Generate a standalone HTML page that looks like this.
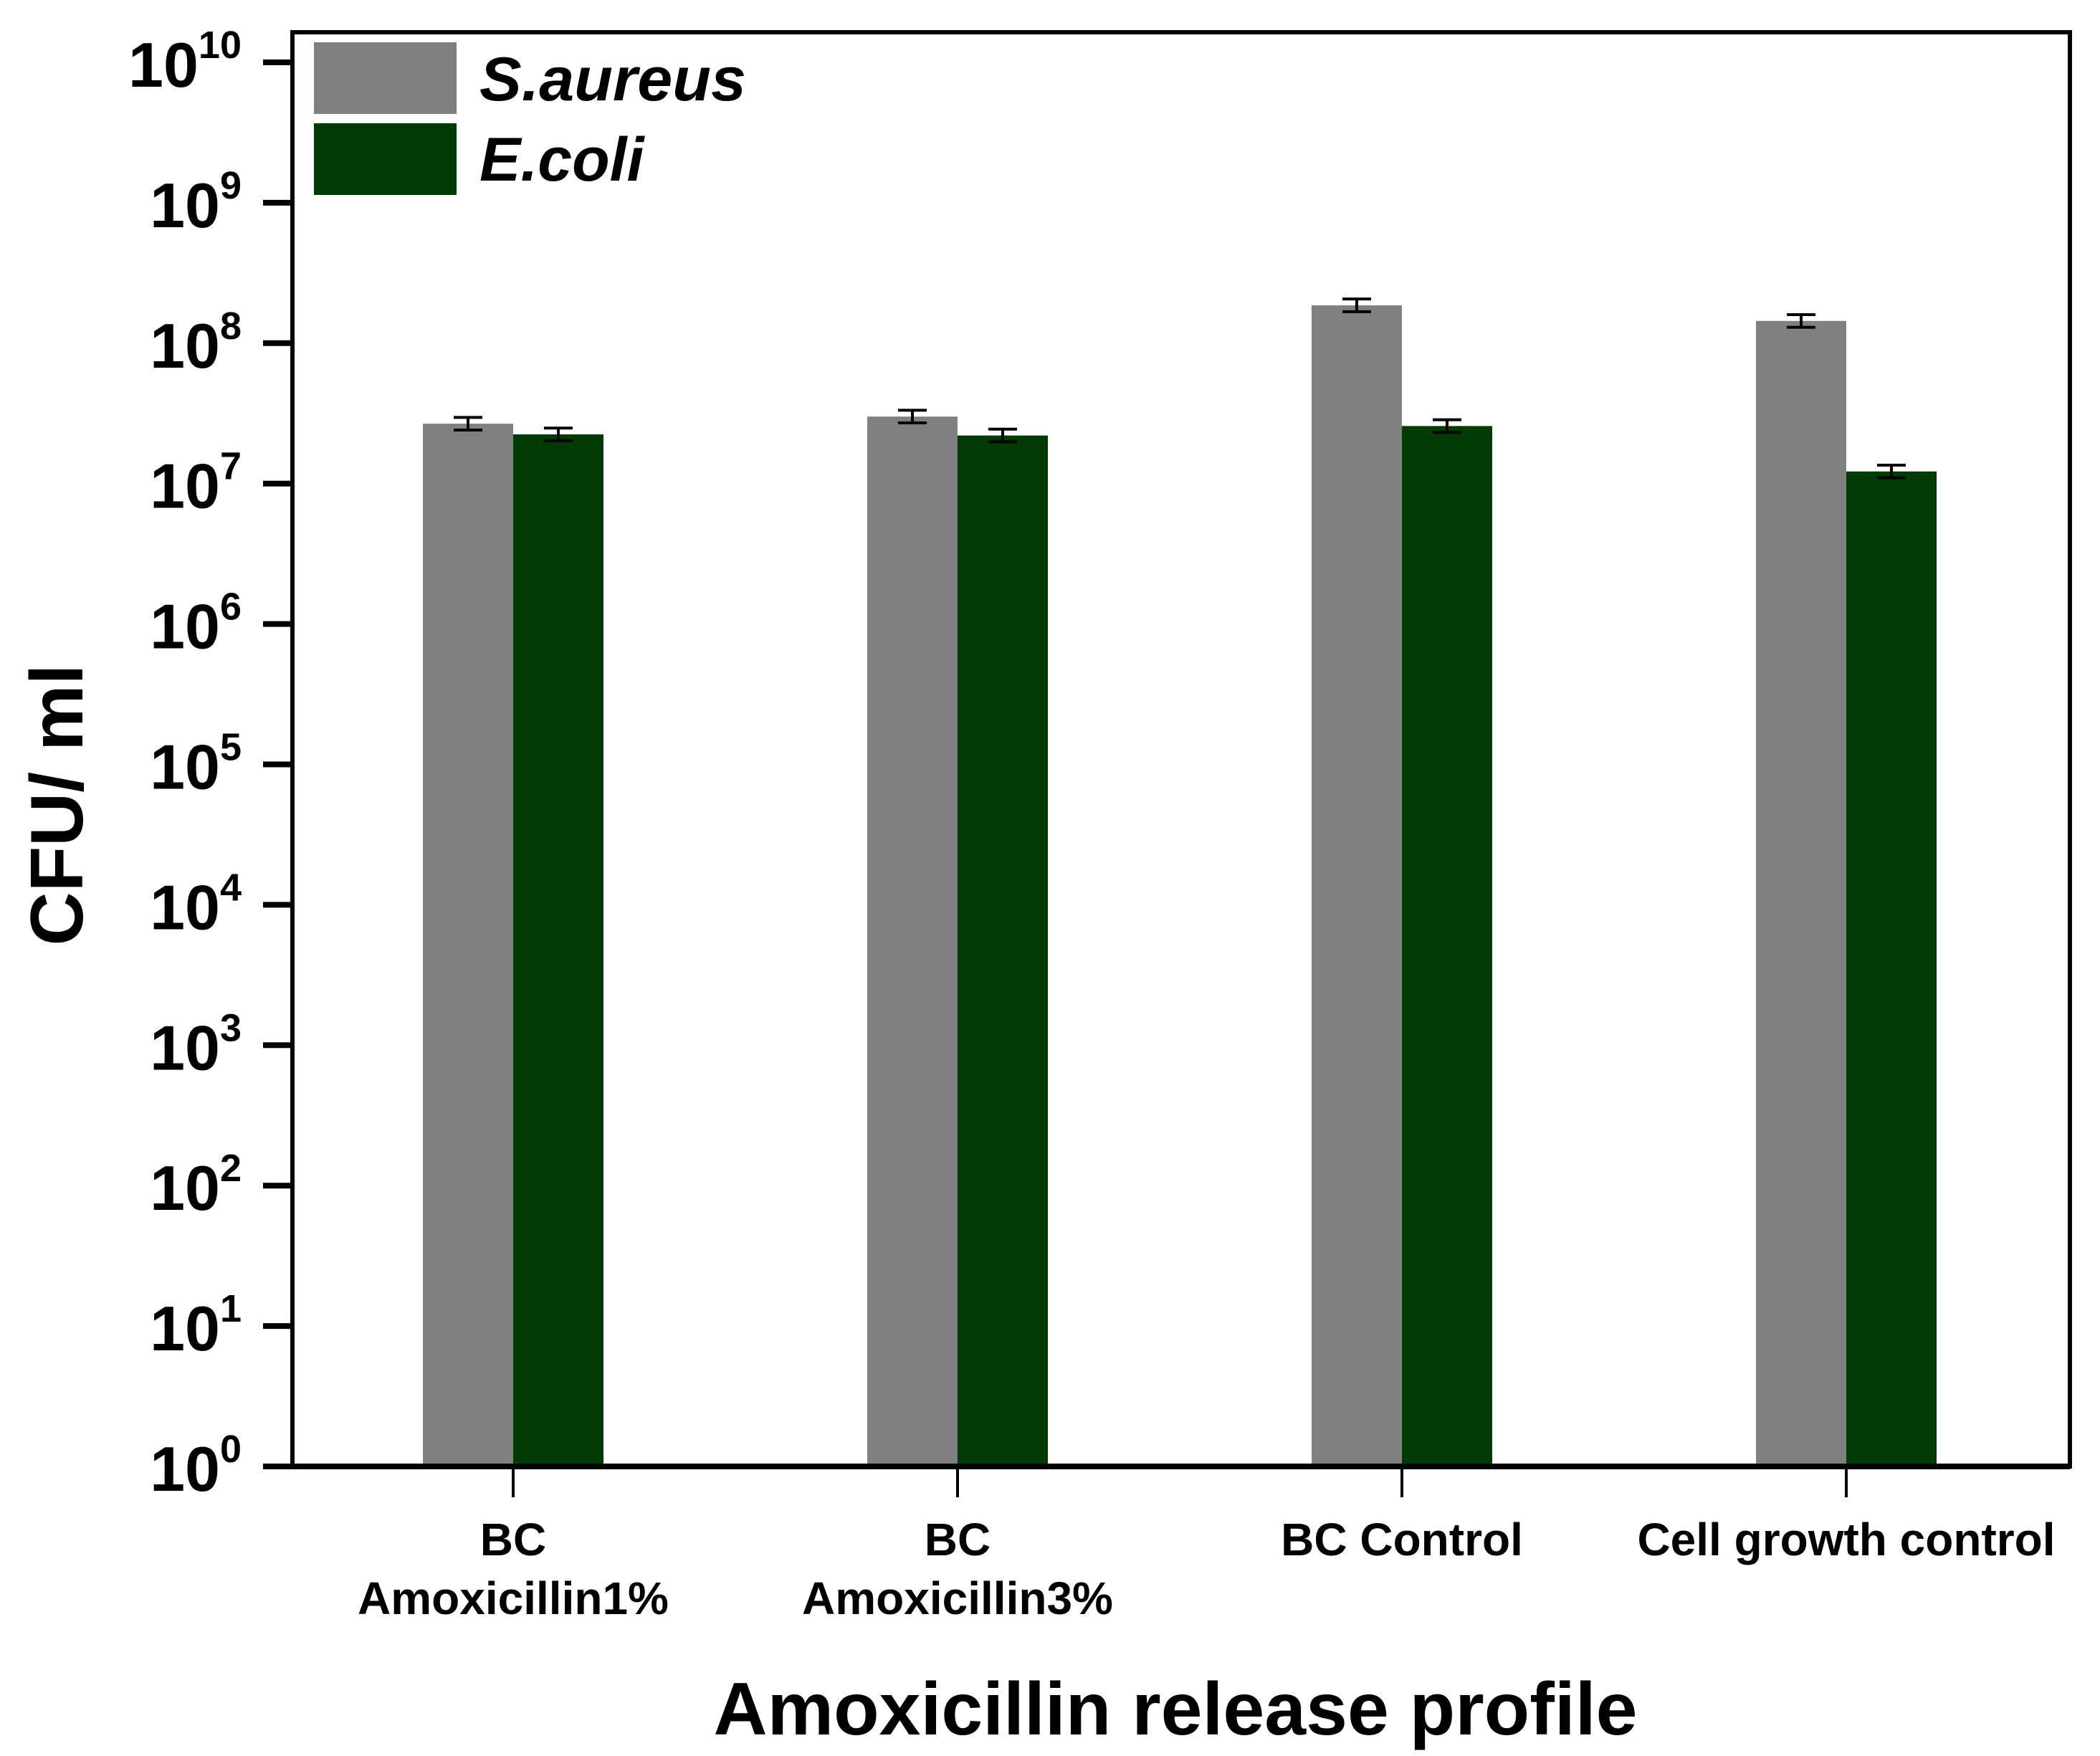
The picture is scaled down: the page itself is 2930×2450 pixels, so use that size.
<!DOCTYPE html>
<html><head><meta charset="utf-8"><style>
html,body{margin:0;padding:0;background:#fff;}
svg{display:block;font-family:"Liberation Sans",Arial,sans-serif;font-weight:bold;}
</style></head><body>
<svg id="chart" width="2930" height="2450" viewBox="0 0 2930 2450" xmlns="http://www.w3.org/2000/svg">
<g id="bars"></g>
<g id="axes"></g>
<g id="legend">
  <rect x="438" y="59" width="199" height="100" fill="#808080"/>
  <text x="669" y="140" font-size="86" font-style="italic" textLength="372" lengthAdjust="spacingAndGlyphs">S.aureus</text>
  <rect x="438" y="172" width="199" height="100" fill="#003c04"/>
  <text x="669" y="252" font-size="86" font-style="italic">E.coli</text>
</g>
<text transform="translate(115,1123) rotate(-90)" text-anchor="middle" font-size="104">CFU/ ml</text>
<text x="1640" y="2420" text-anchor="middle" font-size="104">Amoxicillin release profile</text>
</svg>
<script>
const categories = [["BC","Amoxicillin1%"],["BC","Amoxicillin3%"],["BC Control"],["Cell growth control"]];
const saureus = [2.67e7, 3.0e7, 1.86e8, 1.44e8];
const ecoli = [2.24e7, 2.2e7, 2.57e7, 1.22e7];
const saureusErr = [0.045, 0.045, 0.045, 0.045];
const ecoliErr = [0.045, 0.045, 0.045, 0.045];
const yTickExps = [0,1,2,3,4,5,6,7,8,9,10];

const NS = "http://www.w3.org/2000/svg";
const L = 408, R = 2888, T = 45, B = 2046;
const yTop = 87, yBot = 2046;
function yScale(v){ const lg = Math.log10(v); return yBot - (lg/10)*(yBot - yTop); }
function xCat(i){ return 716 + i*620; }
const barW = 126;
function mk(tag, attrs, parent){ const e = document.createElementNS(NS, tag); for (const k in attrs) e.setAttribute(k, attrs[k]); parent.appendChild(e); return e; }
const bars = document.getElementById('bars');
const axes = document.getElementById('axes');

function drawBar(x, v, err, color, name){
  const y = yScale(v);
  const r = mk('rect', {x:x, y:y, width:barW, height:yBot - y, fill:color}, bars);
  
  
  const lg = Math.log10(v);
  const y1 = yScale(Math.pow(10, lg + err)), y2 = yScale(Math.pow(10, lg - err));
  const cx = x + barW/2;
  const g = mk('g', {stroke:'#000', 'stroke-width':4}, bars);
  
  
  mk('line', {x1:cx, x2:cx, y1:y1, y2:y2}, g);
  mk('line', {x1:cx-20, x2:cx+20, y1:y1, y2:y1}, g);
  mk('line', {x1:cx-20, x2:cx+20, y1:y2, y2:y2}, g);
}
categories.forEach((c, i) => {
  drawBar(xCat(i) - barW, saureus[i], saureusErr[i], '#808080', 'bar-s-aureus-' + i);
  drawBar(xCat(i), ecoli[i], ecoliErr[i], '#003c04', 'bar-e-coli-' + i);
});

const frame = mk('rect', {x:L, y:T, width:R-L, height:B-T, fill:'none', stroke:'#000', 'stroke-width':6}, axes);


const xAxis = mk('line', {x1:368, x2:R, y1:B, y2:B, stroke:'#000', 'stroke-width':8}, axes);



yTickExps.forEach(e => {
  const y = yScale(Math.pow(10, e));
  const t = mk('line', {x1:367, x2:L, y1:y, y2:y, stroke:'#000', 'stroke-width':8}, axes);
  
  
  const tx = mk('text', {x:337, y:y+34, 'text-anchor':'end', 'font-size':88}, axes);
  
  
  const a = document.createElementNS(NS, 'tspan'); a.textContent = '10'; tx.appendChild(a);
  const b = document.createElementNS(NS, 'tspan'); b.setAttribute('dy', '-40'); b.setAttribute('font-size', '54'); b.textContent = String(e); tx.appendChild(b);
});

categories.forEach((c, i) => {
  const x = xCat(i);
  const t = mk('line', {x1:x, x2:x, y1:B, y2:2089, stroke:'#000', 'stroke-width':4}, axes);
  
  
  c.forEach((line, j) => {
    const tx = mk('text', {x:x, y:2170 + j*82, 'text-anchor':'middle', 'font-size':64}, axes);
    
    
    tx.textContent = line;
  });
});
</script>
</body></html>
